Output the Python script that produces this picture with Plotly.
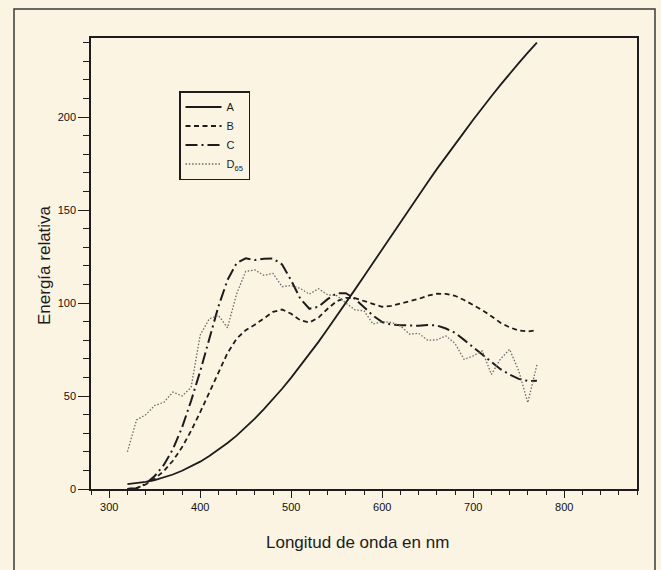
import plotly.graph_objects as go

# Wavelength (nm)
nm = [320, 330, 340, 350, 360, 370, 380, 390, 400, 410, 420, 430, 440, 450, 460,
      470, 480, 490, 500, 510, 520, 530, 540, 550, 560, 570, 580, 590, 600, 610,
      620, 630, 640, 650, 660, 670, 680, 690, 700, 710, 720, 730, 740, 750, 760, 770]

# Relative energy
illum_A = [2.6, 3.0, 3.8, 4.8, 6.1, 7.8, 9.8, 12.1, 14.7, 17.7, 21.0, 24.7, 28.7, 33.1, 37.8,
           42.9, 48.2, 53.9, 59.9, 66.1, 72.5, 79.1, 86.0, 92.9, 100.0, 107.2, 114.4, 121.7, 129.0, 136.3,
           143.6, 150.8, 158.0, 165.0, 172.0, 178.8, 185.4, 191.9, 198.5, 205.0, 211.2, 217.3, 223.3, 229.0, 234.6, 240.0]

illum_B = [0.0, 0.5, 2.4, 5.6, 9.6, 15.2, 22.4, 31.3, 41.3, 52.1, 63.2, 73.1, 80.8, 85.4, 88.3,
           92.0, 95.2, 96.5, 94.2, 90.7, 89.5, 92.2, 96.9, 101.0, 102.8, 102.6, 101.0, 99.2, 98.0, 98.5,
           99.7, 101.0, 102.2, 103.9, 105.0, 104.9, 103.9, 101.6, 99.1, 96.2, 92.9, 89.4, 86.9, 85.2, 84.7, 85.4]

illum_C = [0.0, 0.4, 2.7, 7.0, 12.9, 21.4, 33.0, 47.4, 63.3, 80.6, 98.1, 112.4, 121.5, 124.0, 123.1,
           123.8, 123.9, 120.7, 112.1, 102.3, 96.9, 98.0, 102.1, 105.2, 105.3, 102.3, 97.8, 93.2, 89.7, 88.4,
           88.1, 88.0, 87.8, 88.2, 87.9, 86.3, 84.0, 80.2, 76.3, 72.4, 68.3, 64.4, 61.5, 59.2, 58.1, 58.2]

illum_D65 = [20.0, 37.1, 39.9, 44.9, 46.6, 52.1, 50.0, 54.6, 82.8, 91.5, 93.4, 86.7, 104.9, 117.0, 117.8,
             114.9, 115.9, 108.8, 109.4, 107.8, 104.8, 107.7, 104.4, 104.0, 100.0, 96.3, 95.8, 88.7, 90.0, 89.6,
             87.7, 83.3, 83.7, 80.0, 80.2, 82.3, 78.3, 69.7, 71.6, 74.3, 61.6, 69.9, 75.1, 63.6, 46.4, 66.8]

series_names = ["A", "B", "C", "D<sub>65</sub>"]
x_title = "Longitud de onda en nm"
y_title = "Energía relativa"

PAPER = "#fbf4e3"
INK = "#1c1c1c"
FONT = "Liberation Sans, Arial, sans-serif"

fig = go.Figure()
styles = [
    dict(color=INK, width=1.8, dash="solid"),
    dict(color=INK, width=1.8, dash="5px,3.5px"),
    dict(color=INK, width=2.0, dash="12px,4px,2px,4px"),
    dict(color="#6a6a6a", width=1.3, dash="1.5px,1.8px"),
]
for name, ys, st in zip(series_names, [illum_A, illum_B, illum_C, illum_D65], styles):
    fig.add_trace(go.Scatter(x=nm, y=ys, mode="lines", name=name, line=st))

W, H = 661, 570
L, R, T, B = 91, 24, 38, 81
pw, ph = W - L - R, H - T - B

def px_x(p):
    return (p - L) / pw

def px_y(p):
    return (H - B - p) / ph

fig.update_layout(
    width=W, height=H,
    margin=dict(l=L, r=R, t=T, b=B),
    paper_bgcolor=PAPER, plot_bgcolor=PAPER,
    font=dict(family=FONT, color=INK, size=11),
    showlegend=True,
    legend=dict(
        x=px_x(179), y=px_y(91), xanchor="left", yanchor="top",
        bgcolor="rgba(0,0,0,0)", bordercolor=INK, borderwidth=1.5,
        font=dict(family=FONT, size=11, color=INK),
        tracegroupgap=0, itemwidth=36,
    ),
    xaxis=dict(
        range=[280, 880], tick0=300, dtick=100,
        showline=True, mirror=True, linecolor=INK, linewidth=1.5,
        ticks="outside", ticklen=7, tickwidth=1.3, tickcolor=INK,
        minor=dict(dtick=20, tick0=280, ticks="outside", ticklen=4, tickwidth=1.1, tickcolor=INK),
        showgrid=False, zeroline=False,
        tickfont=dict(family=FONT, size=11, color="#111111"),
    ),
    yaxis=dict(
        range=[0, 242.5], tick0=0, dtick=50,
        showline=True, mirror=True, linecolor=INK, linewidth=1.5,
        ticks="outside", ticklen=11, tickwidth=1.3, tickcolor=INK,
        minor=dict(dtick=10, tick0=0, ticks="outside", ticklen=6, tickwidth=1.1, tickcolor=INK),
        showgrid=False, zeroline=False,
        tickfont=dict(family=FONT, size=11, color="#111111"),
    ),
    annotations=[
        dict(text=x_title, xref="paper", yref="paper", x=px_x(357), y=px_y(542),
             xanchor="center", yanchor="middle", showarrow=False,
             font=dict(family=FONT, size=17, color=INK)),
        dict(text=y_title, xref="paper", yref="paper", x=px_x(44), y=px_y(265),
             xanchor="center", yanchor="middle", showarrow=False, textangle=-90,
             font=dict(family=FONT, size=17, color=INK)),
    ],
    shapes=[
        dict(type="rect", xref="paper", yref="paper",
             x0=px_x(14), x1=px_x(655), y0=px_y(590), y1=px_y(9),
             line=dict(color="#3a3a3a", width=1.5), fillcolor="rgba(0,0,0,0)", layer="below"),
    ],
)

fig.write_html(
    "out.html",
    config={"displayModeBar": False},
    post_script="document.body.style.margin='0px';document.body.style.background='" + PAPER + "';document.body.style.overflow='hidden';",
)
